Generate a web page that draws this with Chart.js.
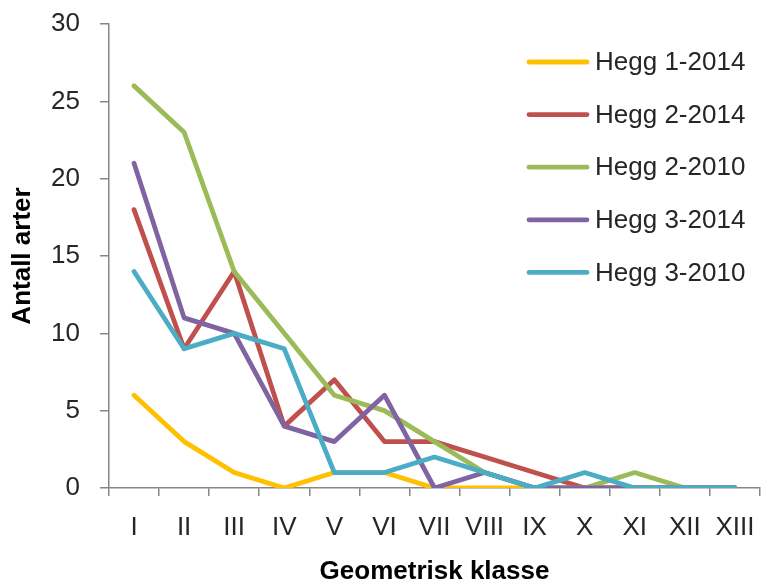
<!DOCTYPE html>
<html>
<head>
<meta charset="utf-8">
<script src="https://cdn.jsdelivr.net/npm/chart.js@4/dist/chart.umd.min.js"></script>
<style>
  html, body { margin: 0; padding: 0; background: #ffffff; }
  #wrap { width: 763px; height: 585px; position: relative; }
</style>
</head>
<body>
<div id="wrap"><canvas id="c" width="763" height="585"></canvas></div>
<script>
// Geometric classes on the x axis
const classes = ['I', 'II', 'III', 'IV', 'V', 'VI', 'VII', 'VIII', 'IX', 'X', 'XI', 'XII', 'XIII'];

// Number of species per geometric class, one array per site/year
const hegg1_2014 = [6, 3, 1, 0, 1, 1, 0, 0, 0, 0, 0, 0, 0];
const hegg2_2014 = [18, 9, 14, 4, 7, 3, 3, 2, 1, 0, 0, 0, 0];
const hegg2_2010 = [26, 23, 14, 10, 6, 5, 3, 1, 0, 0, 1, 0, 0];
const hegg3_2014 = [21, 11, 10, 4, 3, 6, 0, 1, 0, 0, 0, 0, 0];
const hegg3_2010 = [14, 9, 10, 9, 1, 1, 2, 1, 0, 1, 0, 0, 0];

const seriesNames = ['Hegg 1-2014', 'Hegg 2-2014', 'Hegg 2-2010', 'Hegg 3-2014', 'Hegg 3-2010'];
const seriesColors = ['#FFC000', '#C0504D', '#9BBB59', '#8064A2', '#4BACC6'];
const seriesValues = [hegg1_2014, hegg2_2014, hegg2_2010, hegg3_2014, hegg3_2010];

const yTicks = [0, 5, 10, 15, 20, 25, 30];

const FONT = "'Liberation Sans', Arial, sans-serif";
const AXIS_GREY = '#868686';
const TEXT = '#262626';

Chart.defaults.font.family = FONT;
Chart.defaults.font.size = 26;
Chart.defaults.color = TEXT;

const datasets = seriesValues.map((vals, i) => ({
  label: seriesNames[i],
  data: vals,
  borderColor: seriesColors[i],
  backgroundColor: seriesColors[i],
  borderWidth: 4.8,
  borderCapStyle: 'round',
  borderJoinStyle: 'round',
  pointRadius: 0,
  pointHoverRadius: 0,
  tension: 0,
  fill: false,
  // later series are painted over earlier ones
  order: seriesValues.length - i
}));

// Legend drawn as line swatches with labels, placed inside the plot on the right
const lineLegend = {
  id: 'lineLegend',
  afterDatasetsDraw(chart) {
    const ctx = chart.ctx;
    ctx.save();
    ctx.font = '26px ' + FONT;
    ctx.textBaseline = 'middle';
    ctx.textAlign = 'left';
    chart.data.datasets.forEach((ds, i) => {
      const y = 62 + i * 52.6;
      ctx.strokeStyle = ds.borderColor;
      ctx.lineWidth = 4.8;
      ctx.lineCap = 'round';
      ctx.beginPath();
      ctx.moveTo(529, y);
      ctx.lineTo(587, y);
      ctx.stroke();
      ctx.fillStyle = TEXT;
      ctx.fillText(ds.label, 595, y + 1);
    });
    ctx.restore();
  }
};

new Chart(document.getElementById('c'), {
  type: 'line',
  data: { labels: classes, datasets },
  options: {
    responsive: false,
    animation: false,
    events: [],
    layout: { padding: { top: 24, right: 3, left: 0, bottom: 0 } },
    plugins: {
      legend: { display: false },
      tooltip: { enabled: false }
    },
    scales: {
      x: {
        type: 'category',
        offset: true,
        grid: {
          offset: true,
          drawOnChartArea: false,
          color: AXIS_GREY,
          lineWidth: 1.5,
          tickLength: 8
        },
        border: { color: AXIS_GREY, width: 1.5 },
        ticks: {
          color: TEXT,
          font: { size: 26 },
          padding: 16,
          maxRotation: 0,
          autoSkip: false
        },
        title: {
          display: true,
          text: 'Geometrisk klasse',
          color: '#000000',
          font: { size: 26, weight: 'bold', lineHeight: 1.05 },
          padding: { top: 0, bottom: 0 }
        },
        afterFit(scale) {
          scale.height = 97;
          scale.paddingLeft = 0;
          scale.paddingRight = 0;
        }
      },
      y: {
        min: 0,
        max: 30,
        afterBuildTicks(scale) { scale.ticks = yTicks.map(v => ({ value: v })); },
        grid: {
          drawOnChartArea: false,
          color: AXIS_GREY,
          lineWidth: 1.5,
          tickLength: 9
        },
        border: { color: AXIS_GREY, width: 1.5 },
        ticks: {
          color: TEXT,
          font: { size: 26 },
          padding: 20
        },
        title: {
          display: true,
          text: 'Antall arter',
          color: '#000000',
          font: { size: 26, weight: 'bold', lineHeight: 1.2 },
          padding: { top: 7, bottom: 0 }
        },
        afterFit(scale) {
          scale.width = 109;
          scale.paddingTop = 0;
          scale.paddingBottom = 0;
        }
      }
    }
  },
  plugins: [lineLegend]
});
</script>
</body>
</html>
